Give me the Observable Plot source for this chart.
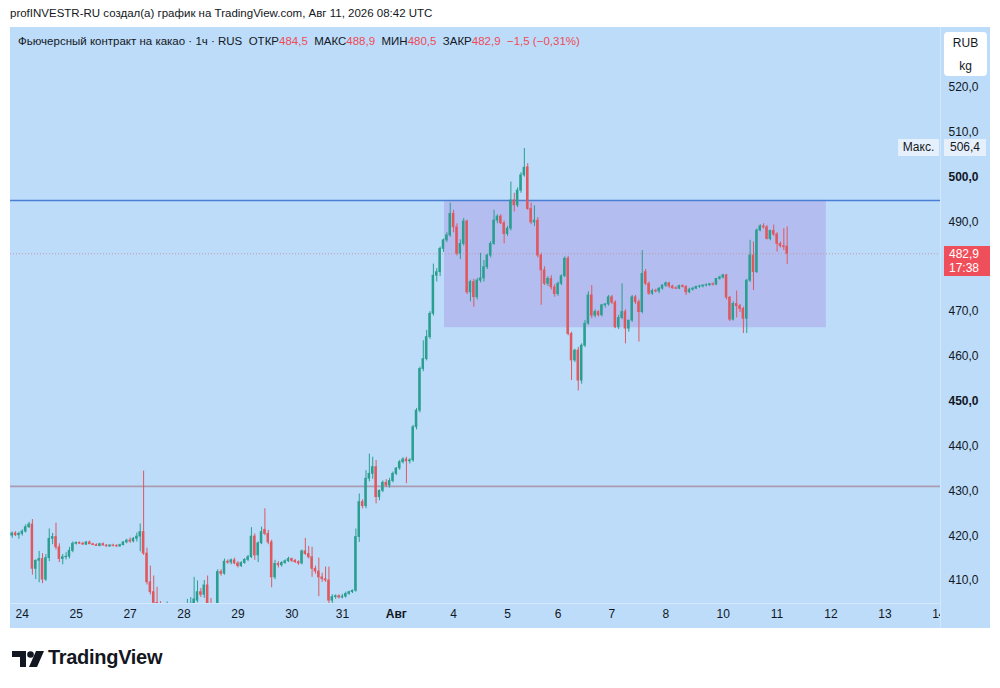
<!DOCTYPE html>
<html><head><meta charset="utf-8">
<script src="https://cdn.jsdelivr.net/npm/d3@7"></script>
<script src="https://cdn.jsdelivr.net/npm/@observablehq/plot@0.6"></script>
<style>
body{margin:0;background:#fff;font-family:"Liberation Sans",Arial,sans-serif;color:#131722;}
#wrap{position:relative;width:1000px;height:688px;overflow:hidden;background:#fff;}
#chart{position:absolute;left:10px;top:27px;width:980px;height:601px;background:#bcdcfa;}
.abs{position:absolute;white-space:nowrap;}
.red{color:#ee4b57;}
</style></head><body><div id="wrap">
<div class="abs" id="hdr" style="left:10px;top:7px;font-size:11.5px;"></div>
<div id="chart"></div>
</div>
<script>
// ---- data ----
const title = "Фьючерсный контракт на какао · 1ч · RUS";
const credit = "profINVESTR-RU создал(а) график на TradingView.com, Авг 11, 2026 08:42 UTC";
const dayIdx = [3,19,35,51,67,83,98,114,131,147,162,178,194,211,227,243,259,275];
const dayLabels = ["24","25","27","28","29","30","31","Авг","4","5","6","7","8","10","11","12","13","14"];
const priceTicks = [410,420,430,440,460,470,490,510,520];
const boldTicks = [450,500];
const resistance = [494.8];
const support = [431.0];
const zone = [[128.3, 241.6, 466.4, 494.8]]; // x1 (bar), x2 (bar), low, high
// hourly candles: [open, high, low, close]
const candles = [
[420.0,420.8,419.4,420.5],[420.5,420.9,419.8,420.1],[420.1,420.8,419.2,420.4],[420.4,421.3,419.9,420.9],
[420.9,422.4,420.6,421.9],[421.9,423.0,421.6,422.5],[422.5,423.6,411.2,412.6],[412.6,414.6,410.2,414.4],
[414.4,416.5,409.5,414.8],[414.8,416.0,409.3,410.2],[410.2,415.8,409.8,415.0],[415.0,421.5,414.2,419.3],
[419.3,420.5,418.0,419.7],[419.7,422.8,416.8,417.4],[417.4,418.2,414.0,414.8],[414.8,415.8,413.5,415.2],
[415.2,416.2,414.6,415.3],[415.3,417.4,414.8,416.6],[416.6,418.6,416.2,418.2],[418.2,418.6,417.9,418.4],
[418.4,418.6,418.1,418.2],[418.2,418.5,417.9,418.0],[418.0,418.7,417.8,418.5],[418.5,418.8,418.0,418.1],
[418.1,418.3,417.8,417.9],[417.9,418.2,417.6,417.7],[417.7,418.3,417.5,418.1],[418.1,418.4,417.7,417.8],
[417.8,418.0,417.5,417.6],[417.6,418.0,417.4,417.8],[417.8,418.1,417.5,417.7],[417.7,418.0,417.4,417.6],
[417.6,418.1,417.4,417.9],[417.9,418.7,417.7,418.5],[418.5,419.2,418.2,418.9],[418.9,419.5,418.3,418.7],
[418.7,419.6,418.4,419.3],[419.3,420.6,418.6,419.8],[419.8,422.6,416.4,420.8],[420.8,434.4,415.6,416.0],
[416.0,417.2,409.0,409.6],[409.6,413.2,406.8,407.4],[407.4,411.0,404.0,405.0],[405.0,408.5,402.0,403.0],
[403.0,405.3,401.0,402.2],[402.2,404.6,400.5,401.5],[401.5,405.2,400.8,403.2],[403.2,404.8,401.6,402.4],
[402.4,403.8,400.2,401.0],[401.0,403.5,400.0,402.8],[402.8,404.6,401.8,403.6],[403.6,404.9,402.4,403.0],
[403.0,405.8,402.6,404.4],[404.4,406.2,403.4,404.8],[404.8,410.7,404.6,405.8],[405.5,409.9,405.0,407.4],
[407.4,408.2,406.2,406.8],[406.8,410.0,406.0,408.9],[408.9,411.0,403.5,404.2],[404.2,406.0,402.0,403.0],
[403.0,404.5,401.8,404.0],[404.0,412.4,403.8,411.9],[411.9,412.4,411.0,411.5],[411.5,414.8,411.2,414.2],
[414.2,414.6,413.6,414.0],[414.0,414.8,413.5,414.5],[414.5,415.0,413.5,413.8],[413.8,414.2,412.8,413.2],
[413.2,414.2,412.9,413.9],[413.9,414.9,413.6,414.6],[414.6,415.6,414.2,415.2],[415.2,421.8,414.9,419.8],
[419.8,420.4,414.5,415.6],[415.6,418.6,414.0,418.3],[418.3,421.9,418.0,420.8],[421.3,426.0,420.0,420.4],
[420.4,421.2,418.0,418.5],[418.5,419.0,408.4,410.7],[410.7,414.5,410.2,413.7],[413.7,414.2,412.8,413.4],
[413.4,414.2,413.0,413.9],[413.9,414.6,413.6,414.3],[414.3,415.2,414.0,414.8],[414.8,415.0,414.0,414.4],
[414.4,414.7,413.8,414.1],[414.1,414.4,413.4,413.8],[413.8,416.8,413.5,416.5],[416.5,419.4,415.6,415.9],
[415.9,417.6,414.8,415.2],[415.2,417.4,410.7,412.6],[412.6,413.2,411.4,412.0],[412.0,415.0,406.4,410.7],
[410.7,411.6,409.6,410.3],[410.3,413.0,409.6,410.0],[410.0,413.0,404.5,405.5],[405.5,406.8,404.8,406.3],
[406.3,406.8,405.8,406.5],[406.5,406.8,405.9,406.2],[406.2,406.9,405.9,406.4],[406.4,407.4,406.1,407.0],
[407.0,407.6,406.7,407.4],[407.4,407.9,407.1,407.7],[407.7,421.5,407.4,419.7],[419.7,429.3,418.5,427.5],
[427.5,428.0,426.0,426.6],[426.6,434.5,426.0,432.7],[432.7,438.2,432.0,433.8],[433.8,437.5,432.6,435.3],
[435.3,436.8,427.1,428.6],[428.6,430.2,427.8,430.0],[430.0,432.2,429.6,431.8],[431.8,432.5,430.8,431.2],
[431.2,432.8,430.6,432.2],[432.2,434.2,431.8,433.8],[433.8,435.2,433.4,435.0],[435.0,436.8,434.6,436.4],
[436.4,437.4,436.0,437.0],[437.0,437.5,431.6,436.6],[436.6,437.2,436.0,436.8],[436.8,444.6,436.4,444.2],
[444.2,448.4,443.6,447.9],[447.9,457.6,447.4,457.2],[457.2,463.5,456.6,459.4],[459.4,465.8,459.0,464.3],
[464.3,470.0,463.8,469.5],[469.5,480.6,469.0,478.0],[478.0,479.6,476.6,478.8],[478.8,484.4,477.8,484.0],
[484.0,486.2,483.2,485.9],[485.9,487.6,485.4,487.0],[487.0,494.2,486.6,491.8],[491.8,492.6,487.6,488.8],
[488.8,489.6,482.4,482.9],[482.9,486.0,481.6,485.1],[485.1,490.8,484.6,490.1],[490.1,490.4,473.8,474.3],
[474.3,477.0,472.2,476.6],[476.6,477.2,471.0,473.2],[473.2,477.4,472.6,476.9],[476.9,483.0,476.4,477.4],
[477.4,481.4,476.6,479.9],[479.9,482.8,479.4,482.5],[482.5,485.6,482.0,485.1],[485.1,492.6,484.8,490.3],
[490.3,491.6,489.6,491.2],[491.2,491.6,489.4,489.7],[489.7,490.2,485.1,487.3],[487.3,489.0,486.8,488.5],
[488.5,498.9,488.0,494.8],[494.8,496.4,492.2,493.7],[493.7,497.6,493.2,497.0],[497.0,501.0,496.4,500.4],
[500.4,506.4,500.0,502.1],[502.2,503.0,492.6,492.9],[492.9,494.2,489.4,489.9],[489.9,493.6,489.0,490.3],
[490.3,491.0,482.0,482.5],[482.5,483.0,471.4,479.2],[479.2,480.0,475.8,476.2],[476.2,477.8,475.6,477.3],
[477.3,478.0,474.8,475.4],[475.4,476.0,473.2,473.9],[473.9,476.6,473.4,476.2],[476.2,478.2,475.8,477.9],
[477.9,482.2,477.6,481.8],[481.8,482.3,464.6,465.0],[465.0,465.4,454.6,459.1],[459.1,461.6,458.6,461.3],
[461.3,462.0,452.3,454.6],[454.6,462.8,453.8,462.4],[462.4,468.0,462.0,467.3],[467.3,474.4,467.0,473.6],
[473.6,475.8,468.4,469.1],[469.1,470.4,468.6,469.9],[469.9,470.2,468.8,469.2],[469.2,471.6,468.8,471.4],
[471.4,471.8,470.8,471.6],[471.6,473.6,471.2,473.2],[473.2,473.6,471.6,472.0],[472.0,472.4,466.2,466.5],
[466.5,469.2,466.0,468.6],[468.6,476.2,468.2,469.9],[469.9,470.4,462.8,466.2],[466.2,468.0,465.4,468.0],
[468.0,473.6,467.6,473.2],[473.2,473.6,471.6,472.1],[472.1,472.6,463.2,469.9],[469.9,483.6,469.5,478.4],
[478.8,479.4,475.8,476.2],[476.2,476.6,473.6,474.0],[474.0,475.0,473.6,474.6],[474.6,475.0,474.2,474.5],
[474.5,475.4,474.0,475.1],[475.1,476.0,474.8,475.8],[475.8,476.6,475.4,476.3],[476.3,476.5,475.2,475.6],
[475.6,475.9,475.0,475.2],[475.2,475.5,474.9,475.1],[475.1,475.9,474.9,475.7],[475.7,476.0,475.3,475.5],
[475.5,475.8,473.6,474.3],[474.3,475.2,474.0,474.9],[474.9,475.4,474.6,475.1],[475.1,475.7,474.9,475.5],
[475.5,475.9,475.2,475.6],[475.6,476.0,475.3,475.8],[475.8,476.2,475.5,475.9],[475.9,476.3,475.6,476.1],
[476.1,476.4,475.7,476.0],[476.0,477.4,475.8,477.3],[477.3,477.9,477.0,477.6],[477.6,478.3,477.3,478.1],
[478.1,478.3,472.6,473.1],[473.1,473.4,467.8,468.2],[468.2,472.2,467.9,471.7],[471.7,474.6,468.6,471.2],
[471.2,471.6,469.8,470.6],[470.6,471.0,465.1,468.4],[468.4,477.2,465.1,476.9],[476.9,485.9,476.5,482.5],
[482.5,485.5,474.7,478.8],[478.8,488.4,478.5,488.1],[488.1,489.4,487.8,489.0],[489.0,489.6,488.4,488.8],
[488.8,489.2,486.0,486.2],[486.2,488.2,485.8,488.0],[488.0,489.3,486.8,487.2],[487.2,487.6,483.3,485.1],
[485.1,485.5,484.2,484.6],[484.6,488.5,483.6,484.4],[484.5,488.9,480.5,482.9]
];
const lastTime = "17:38";
const currency = ["RUB","kg"];

// ---- build ----
const UP = "#2a9f8f", DOWN = "#e0585e";
const rows = candles.map(([o,h,l,c], i) => ({i, o, h, l, c, up: c >= o}));
const fmt = d => d.toFixed(1).replace(".", ",");
const label = new Map(dayIdx.map((d, k) => [d, dayLabels[k]]));
const monthIdx = dayIdx.filter((d, k) => dayLabels[k] === "Авг");
const plainIdx = dayIdx.filter((d, k) => dayLabels[k] !== "Авг");
const zoneRows = zone.map(([x1, x2, y1, y2]) => ({x1, x2, y1, y2}));
const last = rows[rows.length - 1], prev = rows[rows.length - 2];
const maxHigh = d3.max(rows, d => d.h);

const plot = Plot.plot({
  width: 980, height: 601,
  marginLeft: 0, marginRight: 50, marginTop: 0, marginBottom: 25,
  x: {domain: [-0.5, 275.5], axis: null},
  y: {domain: [404.87, 533.39], axis: null},
  style: {fontFamily: '"Liberation Sans", Arial, sans-serif', fontSize: "12px", color: "#131722", background: "transparent", overflow: "visible"},
  marks: [
    Plot.rect(zoneRows, {x1: "x1", x2: "x2", y1: "y1", y2: "y2", fill: "#b3bdf0"}),
    Plot.ruleY(support, {stroke: "#ab9bb1", strokeWidth: 1.6}),
    Plot.ruleY(resistance, {stroke: "#4a80d4", strokeWidth: 1.6}),
    Plot.ruleY([last.c], {stroke: "#c98a95", strokeWidth: 1, strokeDasharray: "1 2", strokeOpacity: 0.8}),
    Plot.ruleX(rows, {x: "i", y1: "l", y2: "h", stroke: d => d.up ? UP : DOWN, strokeWidth: 1, clip: true}),
    Plot.rect(rows, {x1: d => d.i - 0.37, x2: d => d.i + 0.37, y1: "o", y2: "c", fill: d => d.up ? UP : DOWN, insetTop: -0.4, insetBottom: -0.4, clip: true}),
    Plot.ruleY([404.87], {stroke: "#d6e8fc", strokeWidth: 1}),
    Plot.axisY({ticks: priceTicks, anchor: "right", tickSize: 0, tickPadding: 8, tickFormat: fmt, label: null, fill: "#131722"}),
    Plot.axisY({ticks: boldTicks, anchor: "right", tickSize: 0, tickPadding: 8, tickFormat: fmt, label: null, fill: "#131722", fontWeight: "bold"}),
    Plot.axisX({ticks: plainIdx, anchor: "bottom", tickSize: 0, tickPadding: 6, tickFormat: d => label.get(d), label: null, fill: "#131722"}),
    Plot.axisX({ticks: monthIdx, anchor: "bottom", tickSize: 0, tickPadding: 6, tickFormat: d => label.get(d), label: null, fill: "#131722", fontWeight: "bold"})
  ]
});
const chart = document.getElementById("chart");
chart.appendChild(plot);
plot.style.position = "absolute"; plot.style.left = "0"; plot.style.top = "0";

const ys = plot.scale("y");
const py = v => ys.apply(v); // within chart div
function box(html, style) {
  const d = document.createElement("div");
  d.className = "abs"; d.innerHTML = html;
  Object.assign(d.style, style);
  chart.appendChild(d); return d;
}
// separators
box("", {left: "930px", top: "0px", width: "1px", height: "601px", background: "#d3e6fb"});
box("", {left: "931px", top: "576px", width: "49px", height: "25px", background: "#bcdcfa"});
// legend line
const chg = last.c - prev.c;
const pct = chg / prev.c * 100;
const m = v => fmt(v).replace("-", "−");
box(`${title}&nbsp;&nbsp;ОТКР<span class="red">${fmt(last.o)}</span>&nbsp;&nbsp;МАКС<span class="red">${fmt(last.h)}</span>&nbsp;&nbsp;МИН<span class="red">${fmt(last.l)}</span>&nbsp;&nbsp;ЗАКР<span class="red">${fmt(last.c)}</span>&nbsp;&nbsp;<span class="red">${m(chg)} (${pct.toFixed(2).replace(".", ",").replace("-", "−")}%)</span>`,
  {left: "8px", top: "8px", fontSize: "11.5px"});
// currency box
box(`${currency[0]}<br>${currency[1]}`, {left: "934px", top: "5px", width: "43px", height: "44px", background: "#fff", borderRadius: "4px", fontSize: "12px", lineHeight: "23px", textAlign: "center"});
// max label
const ym = py(maxHigh);
box("Макс.", {left: "888px", top: (ym - 8.5) + "px", width: "41px", height: "17px", lineHeight: "17px", background: "#e6f0fc", fontSize: "12px", textAlign: "center"});
box(fmt(maxHigh), {left: "934px", top: (ym - 8.5) + "px", width: "42px", height: "17px", lineHeight: "17px", background: "#e6f0fc", fontSize: "12px", textAlign: "center"});
// last price label
const yl = py(last.c);
box(`${fmt(last.c)}<br>${lastTime}`, {left: "934px", top: (yl - 7) + "px", width: "46px", height: "30px", background: "#ef4f5a", color: "#fff", fontSize: "12px", lineHeight: "14px", paddingTop: "1px", boxSizing: "border-box", paddingLeft: "5px"});

document.getElementById("hdr").textContent = credit;

// TradingView logo
const wrap = document.getElementById("wrap");
const logo = document.createElement("div");
logo.className = "abs";
logo.style.left = "12px"; logo.style.top = "648px";
logo.innerHTML = `<svg width="36" height="22" viewBox="0 0 36 22"><path d="M0 3h14v16h-6v-10h-8z" fill="#131722"/><circle cx="18.5" cy="6.5" r="3.3" fill="#131722"/><path d="M24 3h8l-7 16h-8z" fill="#131722"/></svg>`;
wrap.appendChild(logo);
const tv = document.createElement("div");
tv.className = "abs";
tv.style.left = "48px"; tv.style.top = "646px"; tv.style.fontSize = "20px"; tv.style.fontWeight = "bold"; tv.style.letterSpacing = "-0.3px";
tv.textContent = "TradingView";
wrap.appendChild(tv);
</script>
</body></html>
